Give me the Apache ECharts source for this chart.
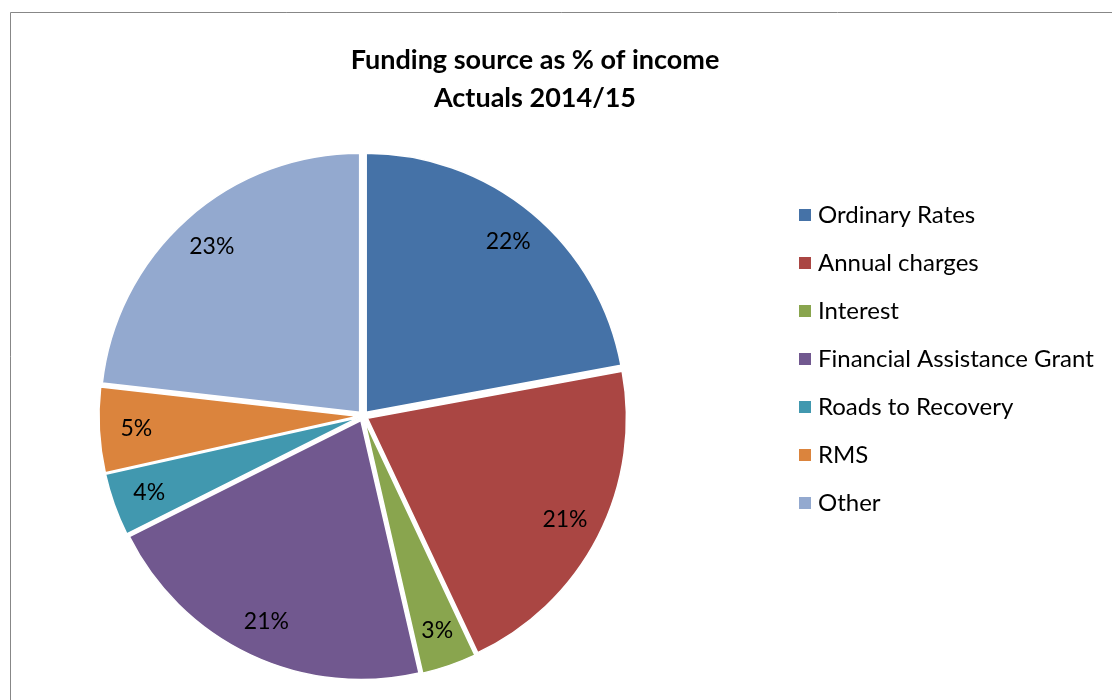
<!DOCTYPE html>
<html>
<head>
<meta charset="utf-8">
<script src="https://cdn.jsdelivr.net/npm/echarts@6/dist/echarts.min.js"></script>
<style>
  html, body { margin: 0; padding: 0; background: #fff; }
  #chart { width: 1112px; height: 700px; }
</style>
</head>
<body>
<div id="chart"></div>
<script>
// Funding sources, share of income (%), actuals 2014/15
const categories = [
  'Ordinary Rates',
  'Annual charges',
  'Interest',
  'Financial Assistance Grant',
  'Roads to Recovery',
  'RMS',
  'Other'
];
const shares = [22.1, 20.9, 3.4, 21.2, 3.9, 5.3, 23.2];
const colors = ['#4572A7', '#AA4643', '#89A54E', '#71588F', '#4198AF', '#DB843D', '#93A9CF'];
const titleLines = ['Funding source as % of income', 'Actuals 2014/15'];

const FONT = 'Lato, "Open Sans", sans-serif';
const CX = 363, CY = 416, R = 259;

const sliceData = categories.map((name, i) => ({
  name: name,
  value: shares[i],
  selected: true,
  itemStyle: { color: colors[i] }
}));

const chart = echarts.init(document.getElementById('chart'), null, { renderer: 'canvas' });

chart.setOption({
  animation: false,
  backgroundColor: '#ffffff',
  color: colors,
  graphic: [
    {
      type: 'rect',
      silent: true,
      shape: { x: 10.5, y: 12.5, width: 1130, height: 720 },
      style: { fill: 'none', stroke: '#878787', lineWidth: 1 }
    },
    {
      type: 'text',
      silent: true,
      style: {
        x: 535, y: 60, text: titleLines[0],
        textAlign: 'center', textVerticalAlign: 'middle',
        font: 'bold 27px ' + FONT, fill: '#000'
      }
    },
    {
      type: 'text',
      silent: true,
      style: {
        x: 535, y: 98, text: titleLines[1],
        textAlign: 'center', textVerticalAlign: 'middle',
        font: 'bold 27px ' + FONT, fill: '#000'
      }
    }
  ],
  legend: {
    orient: 'vertical',
    left: 797,
    top: 203,
    padding: 0,
    itemWidth: 14,
    itemHeight: 14,
    itemGap: 24,
    icon: 'rect',
    data: categories,
    textStyle: { fontFamily: FONT, fontSize: 24, lineHeight: 24, color: '#000', padding: [0, 0, 0, 1] }
  },
  series: [
    {
      // exploded slices
      type: 'pie',
      center: [CX, CY],
      radius: [0, R],
      startAngle: 90,
      clockwise: true,
      selectedMode: 'multiple',
      selectedOffset: 5,
      avoidLabelOverlap: false,
      label: { show: false },
      labelLine: { show: false },
      itemStyle: { borderColor: '#ffffff', borderWidth: 1.5 },
      emphasis: { disabled: true },
      data: sliceData
    },
    {
      // percentage labels placed near the outer edge of each slice
      type: 'pie',
      center: [CX, CY],
      radius: [190, 258],
      startAngle: 90,
      clockwise: true,
      silent: true,
      avoidLabelOverlap: false,
      itemStyle: { color: 'rgba(0,0,0,0)', borderWidth: 0 },
      labelLine: { show: false },
      emphasis: { disabled: true },
      label: {
        show: true,
        position: 'inside',
        fontFamily: FONT,
        fontSize: 23,
        color: '#000',
        formatter: p => Math.round(p.percent) + '%'
      },
      data: categories.map((name, i) => ({ name: name, value: shares[i] }))
    }
  ]
});
</script>
</body>
</html>
